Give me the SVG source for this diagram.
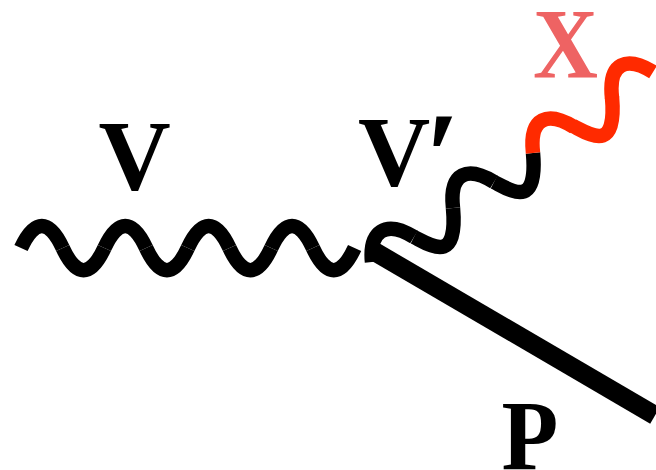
<svg xmlns="http://www.w3.org/2000/svg" width="656" height="470" viewBox="0 0 656 470">
  <style>
    .w { fill: none; stroke: #000; stroke-width: 14.5; stroke-linecap: butt; }
    .r { stroke: #ff2a00; }
    .l { font-family: "Liberation Serif", "Times New Roman", serif; font-weight: bold; font-size: 100px; fill: #000; }
  </style>
  <defs>
    <path id="a" d="M0 0C13.5 -29.5 28.2 -29.5 41.7 0"/>
    <path id="b" d="M0 0C13.5 29.5 28.2 29.5 41.7 0"/>
    <path id="c" d="M0 0C18 9 44 27 39 -29"/>
    <path id="d" d="M0 0C-4 -36 15 -42 41 -26"/>
  </defs>
  <rect width="656" height="470" fill="#fff"/>
  <g id="connectors">
    <g id="wave-v" class="w">
      <use href="#a" x="21" y="248"/>
      <use href="#b" x="62.7" y="248"/>
      <use href="#a" x="104.4" y="248"/>
      <use href="#b" x="146.1" y="248"/>
      <use href="#a" x="187.8" y="248"/>
      <use href="#b" x="229.5" y="248"/>
      <use href="#a" x="271.2" y="248"/>
      <use href="#b" x="312.9" y="248"/>
    </g>
    <g id="wave-vprime" class="w">
      <path d="M372 262C369 232 385 219 414 237"/>
      <use href="#c" x="414" y="237"/>
      <use href="#d" x="453" y="208"/>
      <use href="#c" x="494" y="182"/>
    </g>
    <g id="wave-x" class="w r">
      <use href="#d" x="533" y="153"/>
      <use href="#c" x="573" y="126"/>
      <use href="#d" x="612" y="98"/>
    </g>
    <path id="line-p" d="M371 249.5L655 415.5" fill="none" stroke="#000" stroke-width="19"/>
  </g>
  <g id="node-v"><text class="l" x="98.5" y="189">V</text></g>
  <g id="node-vprime"><text class="l" x="358" y="185">V<tspan font-style="italic" font-size="125" dx="-7" dy="14">′</tspan></text></g>
  <g id="node-x"><text class="l" transform="translate(533 77) scale(.9 1)" style="fill:#ee6363">X</text></g>
  <g id="node-p"><text class="l" transform="translate(501.5 469) scale(.93 1)">P</text></g>
</svg>
